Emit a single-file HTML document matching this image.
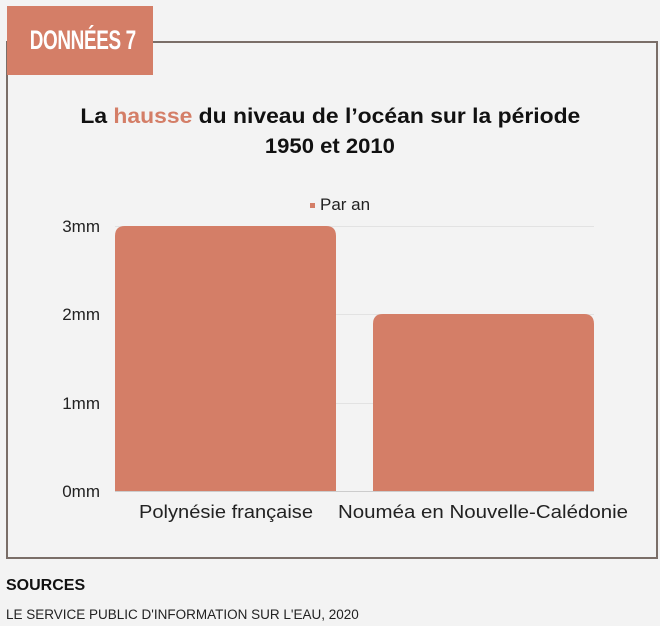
<!DOCTYPE html>
<html><head><style>
body{margin:0;width:660px;height:626px;background:#f3f3f3;font-family:"Liberation Sans",sans-serif;position:relative;overflow:hidden}
.a{position:absolute}
</style></head><body>
<div class="a" style="left:6px;top:41px;width:648px;height:514px;border:2px solid #7a6e68;"></div>
<div class="a" style="left:7px;top:6px;width:146px;height:69px;background:#d47e67;color:#fff;font-size:27px;font-weight:bold;line-height:69px;text-align:center;white-space:nowrap;overflow:hidden"><span style="display:inline-block;transform:scaleX(0.7);letter-spacing:-0.5px">DONNÉES 7</span></div>
<div class="a" style="left:0;top:102px;width:660px;text-align:center;font-size:21px;line-height:30px;color:#111;font-weight:bold;"><span style="display:inline-block;transform:scaleX(1.09)">La <span style="color:#d47e67">hausse</span> du niveau de l’océan sur la période</span><br><span style="display:inline-block;transform:scaleX(1.05)">1950 et 2010</span></div>
<div class="a" style="left:310px;top:195px;font-size:17px;color:#222"><span style="display:inline-block;width:5px;height:5px;background:#d47e67;vertical-align:middle;margin-right:5px"></span>Par an</div>
<svg class="a" style="left:0;top:0" width="660" height="626">
<g stroke="#e2e2e2" stroke-width="1"><line x1="115" x2="594" y1="226.5" y2="226.5"/><line x1="115" x2="594" y1="314.5" y2="314.5"/><line x1="115" x2="594" y1="403.5" y2="403.5"/></g>
<line x1="115" x2="594" y1="491.5" y2="491.5" stroke="#ccc"/>
<path d="M115,491 V236 Q115,226 125,226 H326 Q336,226 336,236 V491Z" fill="#d47e67"/>
<path d="M373,491 V324 Q373,314 383,314 H584 Q594,314 594,324 V491Z" fill="#d47e67"/>
<g font-size="17" fill="#222" text-anchor="end" font-family="Liberation Sans"><text x="100" y="232">3mm</text><text x="100" y="320">2mm</text><text x="100" y="409">1mm</text><text x="100" y="497">0mm</text></g>
<g font-size="18" fill="#222" text-anchor="middle" font-family="Liberation Sans"><text x="226" y="518" textLength="174" lengthAdjust="spacingAndGlyphs">Polynésie française</text><text x="483" y="518" textLength="290" lengthAdjust="spacingAndGlyphs">Nouméa en Nouvelle-Calédonie</text></g>
<text x="6" y="590" font-size="16" fill="#111" font-family="Liberation Sans" font-weight="bold">SOURCES</text>
<text x="6" y="619" font-size="13.5" fill="#222" font-family="Liberation Sans">LE SERVICE PUBLIC D'INFORMATION SUR L'EAU, 2020</text>
</svg>
</body></html>
